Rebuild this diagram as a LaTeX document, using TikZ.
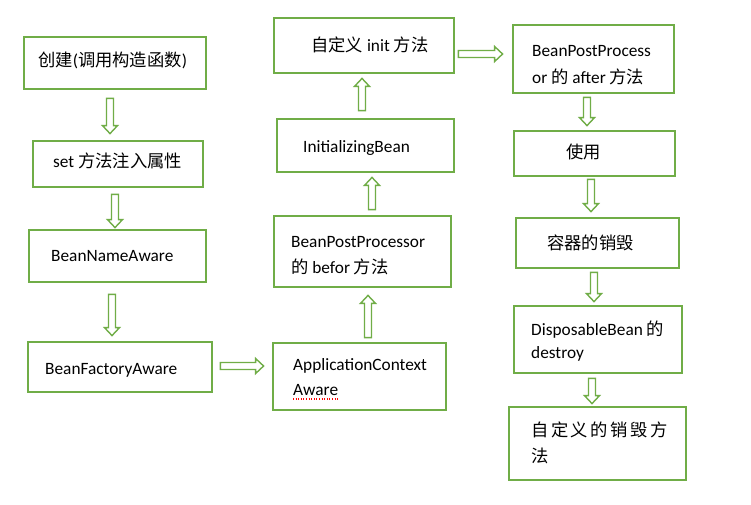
\documentclass[tikz,border=0pt]{standalone}
\usepackage{fontspec}
\setmainfont{Carlito}
\newfontfamily\cjk{Noto Sans CJK SC}
\usetikzlibrary{calc,fit}
\definecolor{grn}{RGB}{112,173,71}
\tikzset{
  box/.style={draw=grn, line width=2.8pt, inner sep=0pt, rectangle},
  txt/.style={inner sep=0pt, anchor=base west, font=\fontsize{17.3}{20}\selectfont},
  barrow/.style={draw=grn, fill=white, line width=1.4pt, line join=miter},
}
\newcommand\blockarr[2]{%
  \path (#1) coordinate (baS) (#2) coordinate (baT);
  \path ($(baT)!8pt!(baS)$) coordinate (baM);
  \draw[barrow] ($(baS)!3.5pt!90:(baT)$) -- ($(baM)!3.5pt!-90:(baS)$) -- ($(baM)!7.5pt!-90:(baS)$) -- (baT)
     -- ($(baM)!7.5pt!90:(baS)$) -- ($(baM)!3.5pt!90:(baS)$) -- ($(baS)!3.5pt!-90:(baT)$) -- cycle;
}
\begin{document}
\begin{tikzpicture}[x=1pt,y=-1pt]
\useasboundingbox (0,0) rectangle (751,504);
\fill[white] (0,0) rectangle (751,504);
% boxes
\node[box, fit={(24,37) (206,89)}] (b1) {};
\node[box, fit={(33,141) (203,187)}] (b2) {};
\node[box, fit={(29,230) (206,282)}] (b3) {};
\node[box, fit={(28,342) (212,392)}] (b4) {};
\node[box, fit={(273,343) (446,410)}] (b5) {};
\node[box, fit={(274,216) (451,287)}] (b6) {};
\node[box, fit={(277,119) (454,172)}] (b7) {};
\node[box, fit={(274,18) (454,73)}] (b8) {};
\node[box, fit={(513,25) (674,93)}] (b9) {};
\node[box, fit={(514,131) (675,176)}] (b10) {};
\node[box, fit={(516,218) (679,268)}] (b11) {};
\node[box, fit={(514,306) (682,373)}] (b12) {};
\node[box, fit={(509,407) (686,480)}] (b13) {};
% texts
\node[txt] (t1) at (38,66) {{\cjk 创建}({\cjk 调用构造函数})};
\node[txt] (t2) at (53,167) {set {\cjk 方法注入属性}};
\node[txt] (t3) at (51,261) {BeanNameAware};
\node[txt] (t4) at (45,374) {BeanFactoryAware};
\node[txt] (t5a) at (293,370) {ApplicationContext};
\node[txt] (t5b) at (293,395) {Aware};
\node[txt] (t6a) at (291,247) {BeanPostProcessor};
\node[txt] (t6b) at (291,273) {{\cjk 的} befor {\cjk 方法}};
\node[txt] (t7) at (303,152) {InitializingBean};
\node[txt] (t8) at (311,51) {{\cjk 自定义} init {\cjk 方法}};
\node[txt] (t9a) at (532,56) {BeanPostProcess};
\node[txt] (t9b) at (532,83) {or {\cjk 的} after {\cjk 方法}};
\node[txt] (t10) at (566,158) {{\cjk 使用}};
\node[txt] (t11) at (547,249) {{\cjk 容器的销毁}};
\node[txt] (t12a) at (531,335) {DisposableBean {\cjk 的}};
\node[txt] (t12b) at (531,358) {destroy};
\node[txt] (t13a) at (531,436) {{\cjk 自\hspace{2.6pt}定\hspace{2.6pt}义\hspace{2.6pt}的\hspace{2.6pt}销\hspace{2.6pt}毁\hspace{2.6pt}方}};
\node[txt] (t13b) at (531,462) {{\cjk 法}};
% spell-check underline
\draw[draw=red, line width=1.2pt, dash pattern=on 1pt off 1.6pt] ($(t5b.base west)+(0,4)$) -- ($(t5b.base east)+(0,4)$);
% arrows
\blockarr{$(b1.south)+(-5,8)$}{$(b2.north)+(-8,-6)$}
\blockarr{$(b2.south)+(-3,6)$}{$(b3.north)+(-2.5,-1)$}
\blockarr{$(b3.south)+(-5.5,11)$}{$(b4.north)+(-8,-5)$}
\blockarr{$(b4.east)+(7,-1)$}{$(b5.west)+(-8,-10.5)$}
\blockarr{$(b5.north)+(8.5,-4)$}{$(b6.south)+(5.5,7)$}
\blockarr{$(b6.north)+(9.5,-5)$}{$(b7.south)+(6.5,4)$}
\blockarr{$(b7.north)+(-3.5,-7)$}{$(b8.south)+(-2,4)$}
\blockarr{$(b8.east)+(3,8.5)$}{$(b9.west)+(-9,-5)$}
\blockarr{$(b9.south)+(-6.5,3)$}{$(b10.north)+(-7.5,-4)$}
\blockarr{$(b10.south)+(-3.5,2)$}{$(b11.north)+(-6.5,-5)$}
\blockarr{$(b11.south)+(-3.5,3)$}{$(b12.north)+(-4,-3)$}
\blockarr{$(b12.south)+(-6,4)$}{$(b13.north)+(-5.5,-2)$}
\end{tikzpicture}
\end{document}
